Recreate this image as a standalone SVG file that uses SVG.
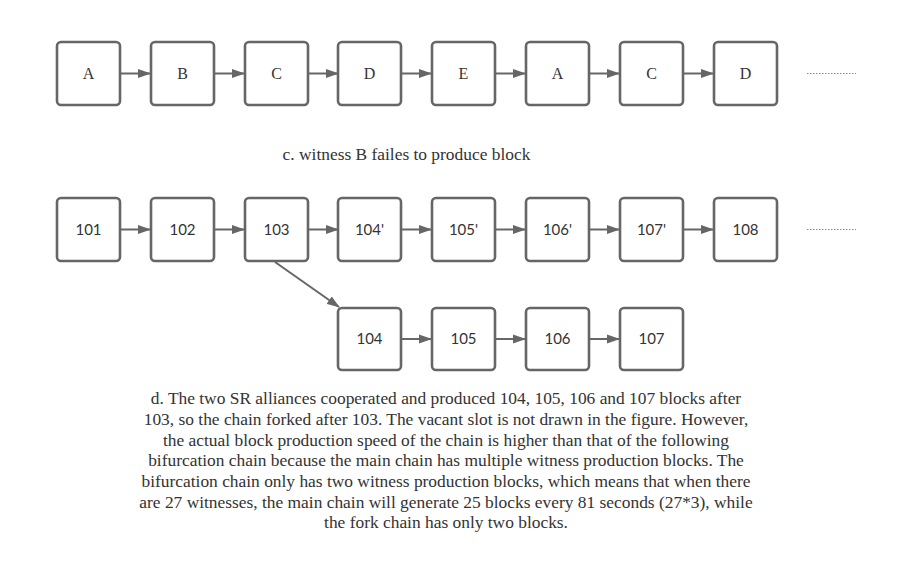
<svg xmlns="http://www.w3.org/2000/svg" width="904" height="582" viewBox="0 0 904 582">
<style>
.box{fill:#fff;stroke:#666;stroke-width:2.6}
.lt{font-family:"Liberation Serif",serif;font-size:16px;fill:#333;text-anchor:middle}
.nt{font-family:Lato,"Liberation Sans",sans-serif;font-size:15px;fill:#333;text-anchor:middle}
.cap{font-family:"Liberation Serif",serif;font-size:17.4px;fill:#333;text-anchor:middle}
.ln{stroke:#666;stroke-width:2;fill:none}
.dot{stroke:#888;stroke-width:1;stroke-dasharray:1.5 1.5}
</style>
<defs>
<marker id="ah" markerWidth="13" markerHeight="10" refX="12" refY="5" orient="auto" markerUnits="userSpaceOnUse">
<path d="M0,0.5 L13,5 L0,9.5 Z" fill="#666"/>
</marker>
</defs>
<rect width="904" height="582" fill="#fff"/>
<g id="connectors">
<line class="ln" x1="120" y1="73.5" x2="150" y2="73.5" marker-end="url(#ah)"/>
<line class="ln" x1="214" y1="73.5" x2="244" y2="73.5" marker-end="url(#ah)"/>
<line class="ln" x1="308" y1="73.5" x2="338" y2="73.5" marker-end="url(#ah)"/>
<line class="ln" x1="401" y1="73.5" x2="431" y2="73.5" marker-end="url(#ah)"/>
<line class="ln" x1="495" y1="73.5" x2="525" y2="73.5" marker-end="url(#ah)"/>
<line class="ln" x1="589" y1="73.5" x2="619" y2="73.5" marker-end="url(#ah)"/>
<line class="ln" x1="683" y1="73.5" x2="713" y2="73.5" marker-end="url(#ah)"/>
<line class="dot" x1="807" y1="73.5" x2="856" y2="73.5"/>
<line class="ln" x1="120" y1="229.5" x2="150" y2="229.5" marker-end="url(#ah)"/>
<line class="ln" x1="214" y1="229.5" x2="244" y2="229.5" marker-end="url(#ah)"/>
<line class="ln" x1="308" y1="229.5" x2="338" y2="229.5" marker-end="url(#ah)"/>
<line class="ln" x1="401" y1="229.5" x2="431" y2="229.5" marker-end="url(#ah)"/>
<line class="ln" x1="495" y1="229.5" x2="525" y2="229.5" marker-end="url(#ah)"/>
<line class="ln" x1="589" y1="229.5" x2="619" y2="229.5" marker-end="url(#ah)"/>
<line class="ln" x1="683" y1="229.5" x2="713" y2="229.5" marker-end="url(#ah)"/>
<line class="dot" x1="807" y1="229.5" x2="856" y2="229.5"/>
<line class="ln" x1="275" y1="262" x2="339" y2="307" marker-end="url(#ah)"/>
<line class="ln" x1="401" y1="339" x2="431" y2="339" marker-end="url(#ah)"/>
<line class="ln" x1="495" y1="339" x2="525" y2="339" marker-end="url(#ah)"/>
<line class="ln" x1="589" y1="339" x2="619" y2="339" marker-end="url(#ah)"/>
</g>
<g id="r1-A"><rect class="box" x="57" y="42" width="63" height="63" rx="4"/><text class="lt" x="88.5" y="79">A</text></g>
<g id="r1-B"><rect class="box" x="151" y="42" width="63" height="63" rx="4"/><text class="lt" x="182.5" y="79">B</text></g>
<g id="r1-C"><rect class="box" x="245" y="42" width="63" height="63" rx="4"/><text class="lt" x="276.5" y="79">C</text></g>
<g id="r1-D"><rect class="box" x="338" y="42" width="63" height="63" rx="4"/><text class="lt" x="369.5" y="79">D</text></g>
<g id="r1-E"><rect class="box" x="432" y="42" width="63" height="63" rx="4"/><text class="lt" x="463.5" y="79">E</text></g>
<g id="r1-A2"><rect class="box" x="526" y="42" width="63" height="63" rx="4"/><text class="lt" x="557.5" y="79">A</text></g>
<g id="r1-C2"><rect class="box" x="620" y="42" width="63" height="63" rx="4"/><text class="lt" x="651.5" y="79">C</text></g>
<g id="r1-D2"><rect class="box" x="714" y="42" width="63" height="63" rx="4"/><text class="lt" x="745.5" y="79">D</text></g>
<text id="caption-c" class="cap" x="406.5" y="160">c. witness B failes to produce block</text>
<g id="r2-101"><rect class="box" x="57" y="198" width="63" height="63" rx="4"/><text class="nt" x="88.5" y="234.5">101</text></g>
<g id="r2-102"><rect class="box" x="151" y="198" width="63" height="63" rx="4"/><text class="nt" x="182.5" y="234.5">102</text></g>
<g id="r2-103"><rect class="box" x="245" y="198" width="63" height="63" rx="4"/><text class="nt" x="276.5" y="234.5">103</text></g>
<g id="r2-104p"><rect class="box" x="338" y="198" width="63" height="63" rx="4"/><text class="nt" x="369.5" y="234.5">104'</text></g>
<g id="r2-105p"><rect class="box" x="432" y="198" width="63" height="63" rx="4"/><text class="nt" x="463.5" y="234.5">105'</text></g>
<g id="r2-106p"><rect class="box" x="526" y="198" width="63" height="63" rx="4"/><text class="nt" x="557.5" y="234.5">106'</text></g>
<g id="r2-107p"><rect class="box" x="620" y="198" width="63" height="63" rx="4"/><text class="nt" x="651.5" y="234.5">107'</text></g>
<g id="r2-108"><rect class="box" x="714" y="198" width="63" height="63" rx="4"/><text class="nt" x="745.5" y="234.5">108</text></g>
<g id="r3-104"><rect class="box" x="338" y="308" width="63" height="62" rx="4"/><text class="nt" x="369.5" y="344">104</text></g>
<g id="r3-105"><rect class="box" x="432" y="308" width="63" height="62" rx="4"/><text class="nt" x="463.5" y="344">105</text></g>
<g id="r3-106"><rect class="box" x="526" y="308" width="63" height="62" rx="4"/><text class="nt" x="557.5" y="344">106</text></g>
<g id="r3-107"><rect class="box" x="620" y="308" width="63" height="62" rx="4"/><text class="nt" x="651.5" y="344">107</text></g>
<g id="caption-d">
<text class="cap" x="446" y="404">d. The two SR alliances cooperated and produced 104, 105, 106 and 107 blocks after</text>
<text class="cap" x="446" y="425">103, so the chain forked after 103. The vacant slot is not drawn in the figure. However,</text>
<text class="cap" x="446" y="446">the actual block production speed of the chain is higher than that of the following</text>
<text class="cap" x="446" y="466">bifurcation chain because the main chain has multiple witness production blocks. The</text>
<text class="cap" x="446" y="487">bifurcation chain only has two witness production blocks, which means that when there</text>
<text class="cap" x="446" y="508">are 27 witnesses, the main chain will generate 25 blocks every 81 seconds (27*3), while</text>
<text class="cap" x="446" y="528">the fork chain has only two blocks.</text>
</g>
</svg>
